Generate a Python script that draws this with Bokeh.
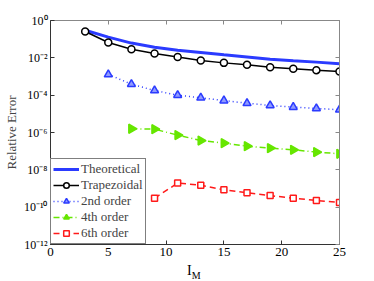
from bokeh.plotting import figure
from bokeh.models import LinearAxis, LogAxis, FixedTicker, Range1d, Div
from bokeh.layouts import column
from bokeh.embed import file_html
from bokeh.resources import INLINE

# Data
theo_x = [3, 5, 7, 9, 11, 13, 15, 17, 19, 21, 23, 25]
theo_y = [10**v for v in [-0.52, -0.89, -1.21, -1.43, -1.59, -1.71, -1.84, -1.95, -2.07, -2.16, -2.23, -2.32]]

trap_x = [3, 5, 7, 9, 11, 13, 15, 17, 19, 21, 23, 25]
trap_y = [10**v for v in [-0.59, -1.18, -1.54, -1.77, -1.96, -2.14, -2.27, -2.37, -2.50, -2.59, -2.66, -2.73]]

o2_x = [5, 7, 9, 11, 13, 15, 17, 19, 21, 23, 25]
o2_y = [10**v for v in [-2.89, -3.41, -3.75, -4.00, -4.14, -4.29, -4.43, -4.55, -4.64, -4.71, -4.78]]

o4_x = [7, 9, 11, 13, 15, 17, 19, 21, 23, 25]
o4_y = [10**v for v in [-5.80, -5.82, -6.14, -6.43, -6.57, -6.73, -6.84, -6.93, -7.05, -7.14]]

o6_x = [9, 11, 13, 15, 17, 19, 21, 23, 25]
o6_y = [10**v for v in [-9.52, -8.71, -8.82, -9.07, -9.23, -9.38, -9.52, -9.64, -9.75]]

x_ticks = [0, 5, 10, 15, 20, 25]
y_ticks = [1.0, 1e-2, 1e-4, 1e-6, 1e-8, 1e-10, 1e-12]
y_tick_labels = ["10⁰", "10⁻²", "10⁻⁴", "10⁻⁶", "10⁻⁸", "10⁻¹⁰", "10⁻¹²"]

BLUE = "#2b3bff"
GREEN = "#66e600"
RED = "#ff1a1a"
FONT = "Liberation Serif"

p = figure(width=372, height=264, y_axis_type="log",
           x_range=Range1d(0, 25), y_range=Range1d(1e-12, 1),
           output_backend="svg", toolbar_location=None,
           min_border_left=49, min_border_right=33, min_border_top=20, min_border_bottom=20)
p.grid.visible = False
p.outline_line_color = "#888888"

p.line(theo_x, theo_y, line_color=BLUE, line_width=3, legend_label="Theoretical")

p.line(trap_x, trap_y, line_color="black", line_width=1.5, legend_label="Trapezoidal")
p.scatter(trap_x, trap_y, marker="circle", size=7, line_color="black", line_width=1.5,
          fill_color="white", legend_label="Trapezoidal")

p.line(o2_x, o2_y, line_color=BLUE, line_width=1.5, line_dash="1 3", legend_label="2nd order")
p.scatter(o2_x, o2_y, marker="triangle", size=8, line_color=BLUE, line_width=1.5,
          fill_color="#8f9aff", legend_label="2nd order")

p.line(o4_x, o4_y, line_color=GREEN, line_width=1.5, line_dash="6 3 1 3", legend_label="4th order")
p.scatter(o4_x, o4_y, marker="triangle", angle=-1.5708, size=9, line_color=GREEN, line_width=1.5,
          fill_color=GREEN, legend_label="4th order")

p.line(o6_x, o6_y, line_color=RED, line_width=1.5, line_dash="6 4", legend_label="6th order")
p.scatter(o6_x, o6_y, marker="square", size=6, line_color=RED, line_width=1.5,
          fill_color="white", legend_label="6th order")

def style_axis(ax, labels=True, color="#333333"):
    ax.axis_line_color = color
    ax.major_tick_line_color = color
    ax.major_tick_in = 4
    ax.major_tick_out = 0
    ax.minor_tick_line_color = None
    ax.major_label_text_font = FONT
    ax.major_label_text_font_size = "13px" if labels else "1px"
    ax.major_label_text_color = "black"
    if not labels:
        ax.major_label_text_alpha = 0.0
    ax.major_label_standoff = 4 if labels else 0
    ax.axis_label_text_font = FONT
    ax.axis_label_text_font_size = "13px"
    ax.axis_label_text_font_style = "normal"

xa = p.xaxis[0]
xa.ticker = FixedTicker(ticks=x_ticks)
style_axis(xa)
xa.major_label_standoff = 3

ya = p.yaxis[0]
ya.ticker = FixedTicker(ticks=y_ticks)
ya.major_label_overrides = {t: l for t, l in zip(y_ticks, y_tick_labels)}
style_axis(ya)
ya.major_label_text_font_size = "12px"
ya.axis_label = "Relative Error"
ya.axis_label_standoff = 2
ya.major_label_standoff = 3

top = LinearAxis(ticker=FixedTicker(ticks=x_ticks))
style_axis(top, labels=False, color="#888888")
p.add_layout(top, "above")
right = LogAxis(ticker=FixedTicker(ticks=y_ticks))
style_axis(right, labels=False, color="#888888")
p.add_layout(right, "right")

lg = p.legend[0]
lg.location = "bottom_left"
lg.margin = 0
lg.padding = 2
lg.spacing = 0
lg.label_text_font = FONT
lg.label_text_font_size = "13px"
lg.label_height = 14
lg.glyph_height = 14
lg.glyph_width = 26
lg.label_standoff = 2
lg.border_line_color = "black"
lg.border_line_width = 1
lg.background_fill_alpha = 1.0

# x-axis label I_M as real text below the plot
xlabel = Div(text="I<sub style='font-size:10px'>M</sub>", width=40, height=15,
             margin=(0, 0, 0, 187),
             styles={"font-family": "'Liberation Serif', serif", "font-size": "14px",
                     "line-height": "14px", "color": "black"})

layout = column(p, xlabel, spacing=0)
open("out.html", "w").write(file_html(layout, INLINE))
